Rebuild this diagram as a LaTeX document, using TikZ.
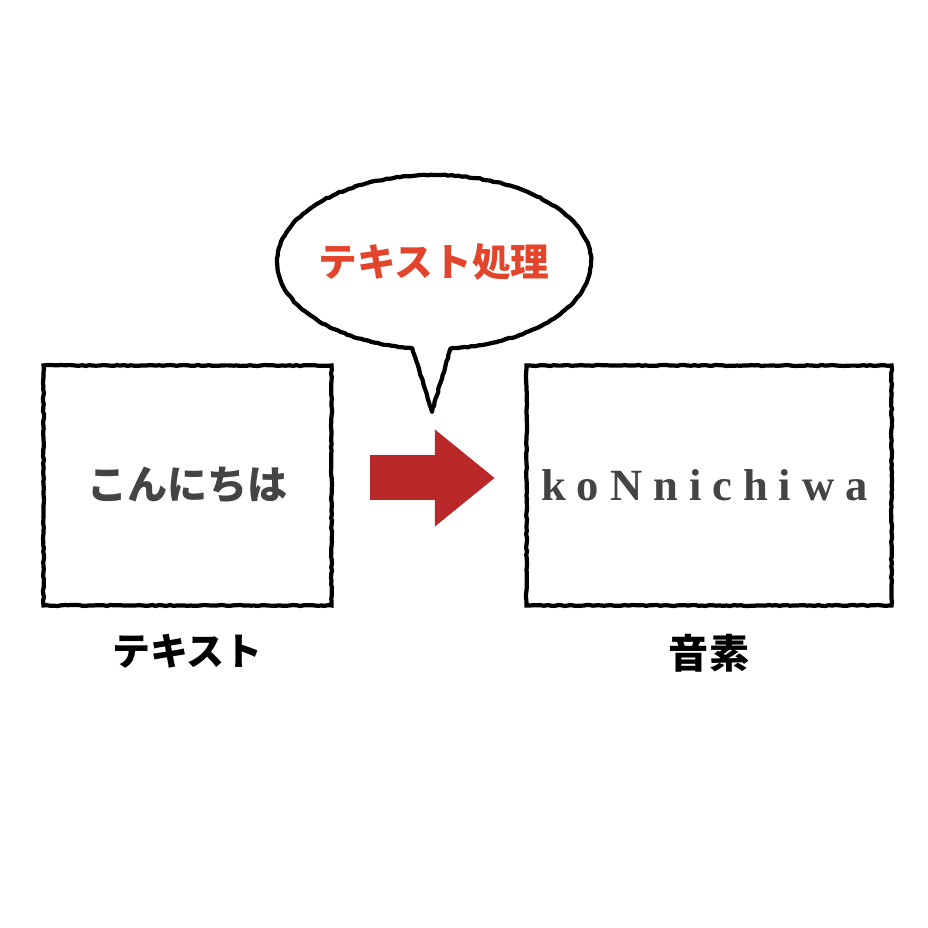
\documentclass[tikz,border=0pt]{standalone}
\usepackage{fontspec}
\setmainfont{Liberation Serif}
\newfontfamily\cjk{Noto Sans CJK JP}
\newfontfamily\phonfont{Liberation Serif Bold}[LetterSpace=24.5]
\usetikzlibrary{positioning,arrows.meta,decorations.pathmorphing}
\definecolor{txtgray}{HTML}{444444}
\definecolor{procred}{HTML}{E2452B}
\definecolor{arrowred}{HTML}{B9292A}
\tikzset{
  rough/.style={decorate, decoration={random steps, segment length=1pt, amplitude=0.15pt}},
  box/.style={draw, rough, line width=1.2pt, minimum height=2.40cm},
  caption/.style={font=\cjk\bfseries\fontsize{10.8}{13}\selectfont, text=black},
  procarrow/.style={arrowred, line width=0.45cm, -{Triangle[length=0.6cm, width=0.93cm]}}
}
\begin{document}
\begin{tikzpicture}
    \useasboundingbox (0,0) rectangle (9.28,9.28);
    % the two boxes
    \node[box, minimum width=2.88cm, font=\cjk\bfseries\fontsize{11.4}{13}\selectfont, text=txtgray]
      (txt) at (1.875,4.425) {こんにちは};
    \node[box, minimum width=3.65cm, text=txtgray,
      font=\phonfont\fontsize{12.7}{14}\selectfont]
      (phon) at (7.09,4.425) {\hspace{-0.2em}koNnichiwa};
    \node[caption, below=0.14cm of txt] (txtlabel) {テキスト};
    \node[caption, below=0.14cm of phon, font=\cjk\bfseries\fontsize{11.4}{13}\selectfont] (phonlabel) {音素};
    % arrow between them
    \draw[procarrow, shorten <=0.365cm, shorten >=0.295cm]
      ([yshift=0.075cm]txt.east) -- ([yshift=0.075cm]phon.west);
    % speech bubble
    \coordinate (bub) at (4.34,6.66);
    \coordinate (tailtip) at (4.32,5.16);
    \draw[rough, line width=1.2pt, line join=round]
      (bub) ++(-84:1.57 and 0.87)
      arc[start angle=-84, end angle=262, x radius=1.57, y radius=0.87]
      -- (tailtip) -- cycle;
    \node[font=\cjk\bfseries\fontsize{11}{13}\selectfont, text=procred] (proc) at (bub) {テキスト処理};
\end{tikzpicture}
\end{document}
